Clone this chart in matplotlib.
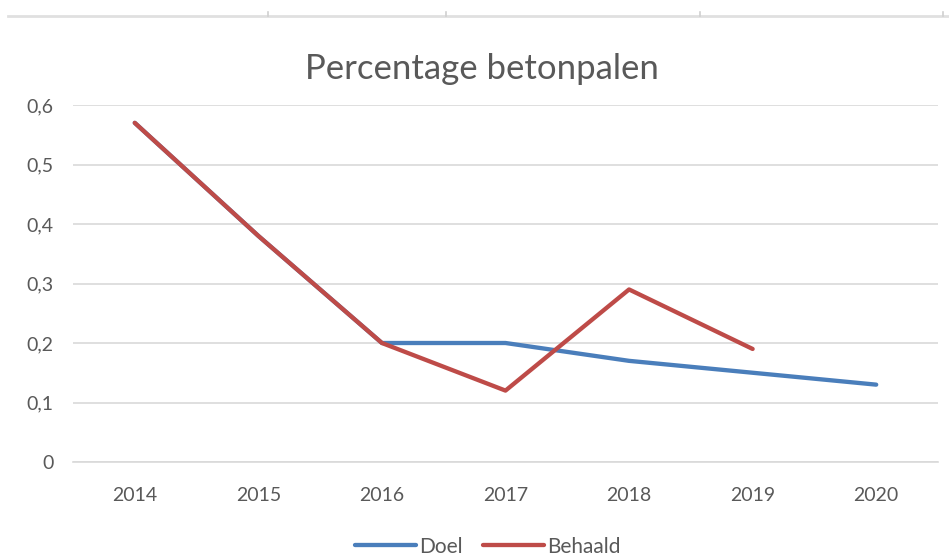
import matplotlib
matplotlib.use("Agg")
import matplotlib.pyplot as plt
from matplotlib.lines import Line2D
from matplotlib.ticker import FuncFormatter

years = ["2014", "2015", "2016", "2017", "2018", "2019", "2020"]
doel = [0.57, 0.38, 0.20, 0.20, 0.17, 0.15, 0.13]
behaald = [0.57, 0.38, 0.20, 0.12, 0.29, 0.19]

plt.rcParams["font.family"] = ["Lato", "DejaVu Sans"]
text_grey = "#595959"
grid_grey = "#d9d9d9"

fig = plt.figure(figsize=(9.49, 5.6), dpi=100)
ax = fig.add_axes([0.0769, 0.175, 0.9115, 0.6375])

x = list(range(len(years)))
ax.plot(x, doel, color="#4a7ebb", lw=3.1, solid_capstyle="round", label="Doel")
ax.plot(x[:len(behaald)], behaald, color="#be4b48", lw=3.1,
        solid_capstyle="round", label="Behaald")

ax.set_xlim(-0.5, len(years) - 0.5)
ax.set_ylim(0, 0.6)
ax.set_yticks([0, 0.1, 0.2, 0.3, 0.4, 0.5, 0.6])
ax.yaxis.set_major_formatter(FuncFormatter(
    lambda v, p: "0" if v == 0 else f"{v:.1f}".replace(".", ",")))
ax.set_xticks(x)
ax.set_xticklabels(years)
ax.grid(axis="y", color=grid_grey, lw=1.2)
ax.set_axisbelow(True)
for side in ("top", "right", "left"):
    ax.spines[side].set_visible(False)
ax.spines["bottom"].set_color(grid_grey)
ax.spines["bottom"].set_linewidth(1.2)
ax.tick_params(length=0, labelsize=14, colors=text_grey)
ax.tick_params(axis="x", pad=18)
ax.tick_params(axis="y", pad=14)

fig.text(0.508, 0.877, "Percentage betonpalen", ha="center", va="center",
         fontsize=25, color=text_grey)

fig.legend(loc="center", bbox_to_anchor=(0.514, 0.024), ncol=2, frameon=False,
           fontsize=15, handlelength=2.9, handletextpad=0.15, columnspacing=1.0,
           labelcolor=text_grey, borderpad=0.1)

# cell border above the chart
fig.add_artist(Line2D([8 / 949, 1], [1 - 16 / 560] * 2, color="#e0e0e0", lw=2))
for px in (268, 446, 700, 943):
    fig.add_artist(Line2D([px / 949] * 2, [1 - 16 / 560, 1 - 12 / 560],
                          color="#d0d0d0", lw=1.2))

fig.savefig("out.png", dpi=100)
